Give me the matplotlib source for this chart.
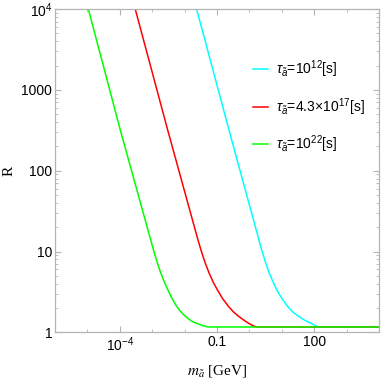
import numpy as np
import matplotlib
matplotlib.use("Agg")
import matplotlib.pyplot as plt
from matplotlib.ticker import FixedLocator, FixedFormatter, NullFormatter

plt.rcParams['font.family'] = ['Liberation Sans', 'DejaVu Sans']
plt.rcParams['mathtext.fontset'] = 'custom'
plt.rcParams['mathtext.rm'] = 'Liberation Sans'
plt.rcParams['mathtext.it'] = 'Liberation Sans:italic'

# curves, in log10(m/GeV) and log10(R)
cyan_logm = [-1.627, -0.630, 0.296, 0.380, 0.512, 0.615, 0.736, 0.848, 1.002, 1.190,
             1.345, 1.54, 1.71, 1.91, 2.03, 2.09, 2.13, 4.0]
cyan_logr = [4.0, 2.505, 1.143, 1.019, 0.85, 0.731, 0.62, 0.524, 0.42, 0.317,
             0.25, 0.193, 0.15, 0.111, 0.085, 0.072, 0.066, 0.066]

red_logm = [-3.522, -2.522, -1.586, -1.494, -1.428, -1.355, -1.240, -1.115, -0.985,
            -0.830, -0.638, -0.484, -0.315, -0.165, -0.02, 0.10, 0.18, 0.24, 4.0]
red_logr = [4.0, 2.505, 1.143, 1.019, 0.936, 0.85, 0.731, 0.62, 0.524,
            0.42, 0.317, 0.25, 0.193, 0.15, 0.111, 0.085, 0.072, 0.066, 0.066]

green_logm = [-4.97, -3.985, -3.292, -2.96, -2.833, -2.748, -2.653, -2.540, -2.414,
              -2.271, -2.149, -2.020, -1.858, -1.738, -1.633, -1.451, -1.334, -1.262, 4.0]
green_logr = [4.0, 2.505, 1.5, 1.019, 0.85, 0.75, 0.65, 0.545, 0.44,
              0.338, 0.27, 0.214, 0.16, 0.13, 0.111, 0.085, 0.072, 0.066, 0.066]

labels = [r'$\tau_{\tilde{a}}$=10$^{12}$[s]',
          r'$\tau_{\tilde{a}}$=4.3$\times$10$^{17}$[s]',
          r'$\tau_{\tilde{a}}$=10$^{22}$[s]']

xmajor = [1e-4, 1e-1, 1e2]
xmajor_labels = [r'10$^{-4}$', '0.1', '100']
ymajor = [1, 10, 100, 1000, 1e4]
ymajor_labels = ['1', '10', '100', '1000', r'10$^{4}$']

fig = plt.figure(figsize=(3.82, 3.82), dpi=100)
ax = fig.add_axes([0.144, 0.130, 0.848, 0.846])

ax.plot(10**np.array(cyan_logm), 10**np.array(cyan_logr), color='#00ffff', lw=1.1, label=labels[0])
ax.plot(10**np.array(red_logm), 10**np.array(red_logr), color='#ff0000', lw=1.1, label=labels[1])
ax.plot(10**np.array(green_logm), 10**np.array(green_logr), color='#00ff00', lw=1.1, label=labels[2])

ax.set_xscale('log')
ax.set_yscale('log')
ax.set_xlim(1e-6, 1e4)
ax.set_ylim(1, 1e4)

ax.xaxis.set_major_locator(FixedLocator(xmajor))
ax.xaxis.set_major_formatter(FixedFormatter(xmajor_labels))
ax.xaxis.set_minor_locator(FixedLocator([1e-5, 1e-3, 1e-2, 1, 10, 1e3]))
ax.xaxis.set_minor_formatter(NullFormatter())
ax.yaxis.set_major_locator(FixedLocator(ymajor))
ax.yaxis.set_major_formatter(FixedFormatter(ymajor_labels))
ax.yaxis.set_minor_locator(FixedLocator([k * 10**d for d in range(4) for k in range(2, 10)]))
ax.yaxis.set_minor_formatter(NullFormatter())

for s in ax.spines.values():
    s.set_color('#b4b4b4')
    s.set_linewidth(0.9)
ax.tick_params(which='both', direction='in', top=True, right=True, color='#b4b4b4', labelsize=10, pad=2)
ax.tick_params(which='major', length=4, width=0.8)
ax.tick_params(which='minor', length=2, width=0.6)

ax.set_ylabel('R', family='Liberation Serif', fontsize=11, labelpad=4)
ax.set_xlabel(r'$m_{\tilde{a}}$ [GeV]', family='Liberation Serif', math_fontfamily='stix',
              fontsize=11, labelpad=7)

ax.legend(loc='upper left', bbox_to_anchor=(0.593, 0.865), frameon=False, fontsize=10,
          handlelength=1.1, handletextpad=0.6, labelspacing=1.15, borderaxespad=0)

fig.savefig('out.png', dpi=100)
